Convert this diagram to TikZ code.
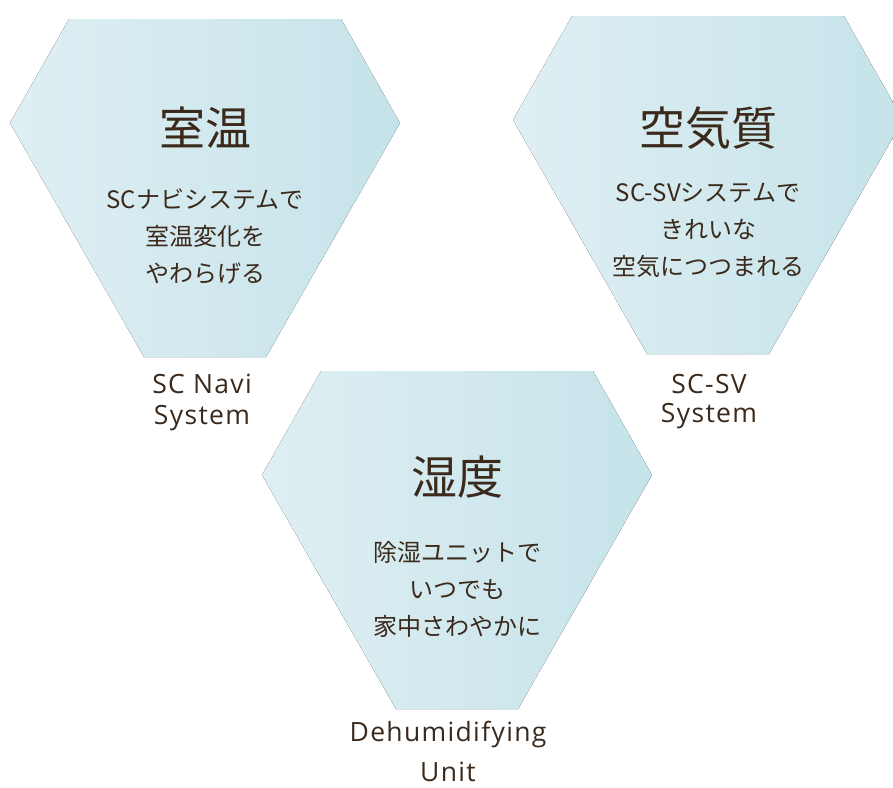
\documentclass[tikz,border=0pt]{standalone}
\usepackage{fontspec}
\newfontfamily\cjk{Noto Sans CJK JP}
\newfontfamily\labfont[LetterSpace=5]{Open Sans}
\definecolor{hexL}{HTML}{DFEFF3}
\definecolor{hexR}{HTML}{C5E3EA}
\definecolor{ink}{HTML}{3B2A1C}
\tikzset{
  hexfill/.style={left color=hexL, right color=hexR, draw=none},
  titletext/.style={text=ink, font=\cjk\fontsize{46}{50}\selectfont, inner sep=0pt},
  bodytext/.style={text=ink, font=\cjk\fontsize{24}{37}\selectfont, align=center, inner sep=0pt},
  labtext/.style={text=ink, font=\labfont\fontsize{26.5}{30}\selectfont, inner sep=0pt},
}
\newcommand{\hexpath}[2]{(#1-136,#2) -- (#1+136,#2) -- (#1+195,#2+104) -- (#1+61,#2+338) -- (#1-61,#2+338) -- (#1-195,#2+104) -- cycle}
\begin{document}
\begin{tikzpicture}[x=1pt,y=-1pt]
\useasboundingbox (0,0) rectangle (893,787);
\clip (0,0) rectangle (893,787);
% hexagons
\fill[hexfill] \hexpath{205}{19};
\fill[hexfill] \hexpath{708}{16};
\fill[hexfill] \hexpath{457}{371};
% hexagon 1
\node[titletext] (t1) at (205,128) {室温};
\node[bodytext] (b1) at (205,236) {SCナビシステムで\\室温変化を\\やわらげる};
\node[labtext] (l1a) at (202,384) {SC Navi};
\node[labtext] (l1b) at (202,418) {System};
% hexagon 2
\node[titletext] (t2) at (708,128) {空気質};
\node[bodytext] (b2) at (708,230) {SC-SVシステムで\\きれいな\\空気につつまれる};
\node[labtext] (l2a) at (709,384) {SC-SV};
\node[labtext] (l2b) at (709,416) {System};
% hexagon 3
\node[titletext] (t3) at (457,477) {湿度};
\node[bodytext] (b3) at (457,589) {除湿ユニットで\\いつでも\\家中さわやかに};
\node[labtext] (l3a) at (448,735) {Dehumidifying};
\node[labtext] (l3b) at (448,772) {Unit};
\end{tikzpicture}
\end{document}
